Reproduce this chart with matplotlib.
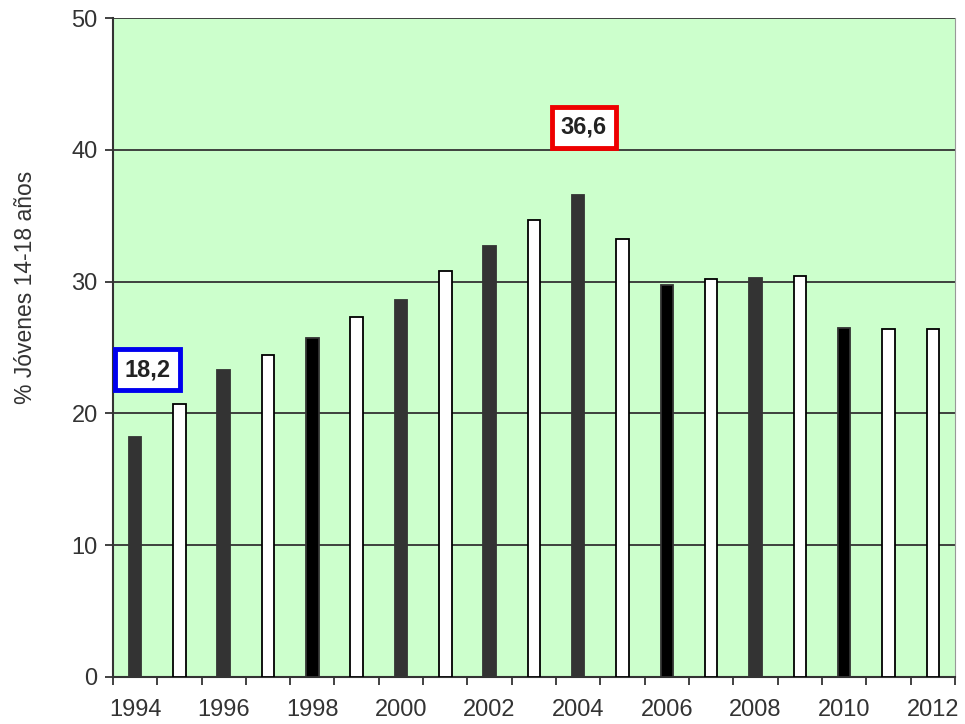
import matplotlib.pyplot as plt
import numpy as np

plt.rcParams['font.family'] = ['Liberation Sans', 'DejaVu Sans']

years = list(range(1994, 2013))
values = [18.2, 20.7, 23.3, 24.4, 25.7, 27.3, 28.6, 30.8, 32.7, 34.7,
          36.6, 33.2, 29.75, 30.2, 30.3, 30.4, 26.5, 26.4, 26.4]
# fill colour per year: dark bars on even years, white on odd
fills = ['#333333', 'white', '#333333', 'white', '#000000', 'white', '#333333',
         'white', '#333333', 'white', '#333333', 'white', '#000000', 'white',
         '#333333', 'white', '#000000', 'white', 'white']
tick_years = [str(y) for y in years[::2]]
y_ticks = [0, 10, 20, 30, 40, 50]

fig = plt.figure(figsize=(9.65, 7.24), dpi=100)
ax = fig.add_axes([0.117, 0.065, 0.8726, 0.910])
ax.set_facecolor('#ccffcc')

x = np.arange(len(years))
edges = ['#333333' if f != 'white' else 'black' for f in fills]
ax.bar(x, values, width=0.28, color=fills, edgecolor=edges, linewidth=1.3, zorder=3)

ax.set_xlim(-0.5, len(years) - 0.5)
ax.set_ylim(0, 50)
ax.set_yticks(y_ticks)
ax.yaxis.grid(True, color='#333333', linewidth=1.3, zorder=1)
ax.set_axisbelow(True)

ax.set_xticks(x[::2])
ax.set_xticklabels(tick_years)
ax.set_xticks(np.arange(len(years) + 1) - 0.5, minor=True)
ax.tick_params(axis='x', which='major', length=0, pad=16, labelsize=17, labelcolor='#333333')
ax.tick_params(axis='x', which='minor', length=6, width=1.3, color='#333333', direction='out')
ax.tick_params(axis='y', length=6, width=1.3, color='#333333', labelsize=17,
               labelcolor='#333333', pad=5)

for s in ['left', 'bottom']:
    ax.spines[s].set_color('#333333')
    ax.spines[s].set_linewidth(1.5)
ax.spines['top'].set_visible(False)
ax.spines['right'].set_color('#999999')

ax.set_ylabel('% Jóvenes 14-18 años', fontsize=16.5, color='#333333')
ax.yaxis.set_label_coords(-0.090, 0.592)

ax.text(0.28, 23.3, '18,2', ha='center', va='center', fontsize=17, fontweight='bold',
        color='#222222', zorder=5,
        bbox=dict(boxstyle='square,pad=0.38', facecolor='white', edgecolor='#0000ee', linewidth=3.5))
ax.text(10.12, 41.7, '36,6', ha='center', va='center', fontsize=17, fontweight='bold',
        color='#222222', zorder=5,
        bbox=dict(boxstyle='square,pad=0.38', facecolor='white', edgecolor='#ee0000', linewidth=3.5))

fig.savefig('out.png', dpi=100)
